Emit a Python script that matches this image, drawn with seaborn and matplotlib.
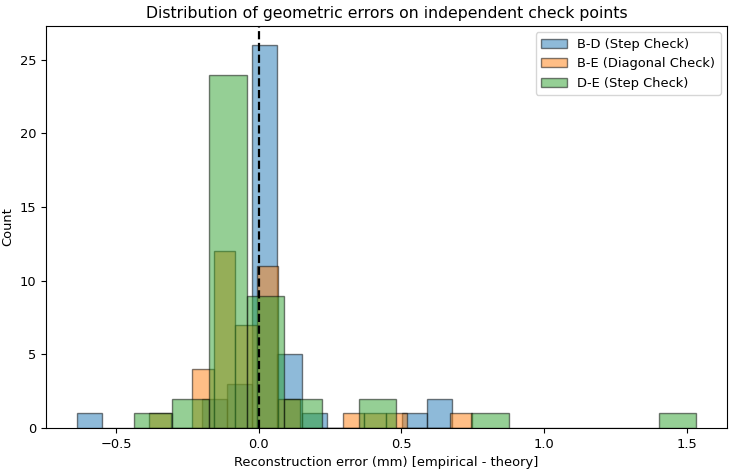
import numpy as np
import pandas as pd
import matplotlib
matplotlib.use("Agg")
import matplotlib.pyplot as plt
import seaborn as sns

plt.rcParams["font.size"] = 9.4

# Series labels
labels = ["B-D (Step Check)", "B-E (Diagonal Check)", "D-E (Step Check)"]

# Histogram range (min, max of each series) and counts in 15 equal bins
bd_range = (-0.637, 0.676)
bd_counts = [1, 0, 0, 0, 0, 2, 3, 26, 5, 1, 0, 0, 0, 1, 2]

be_range = (-0.384, 0.746)
be_counts = [1, 0, 4, 12, 7, 11, 2, 0, 0, 1, 1, 1, 0, 0, 1]

de_range = (-0.437, 1.533)
de_counts = [1, 2, 24, 9, 2, 0, 2, 0, 0, 1, 0, 0, 0, 0, 1]

colors = ["#1f77b4", "#ff7f0e", "#2ca02c"]

fig, ax = plt.subplots(figsize=(7.33, 4.72), dpi=100)

for lab, rng, cnt, col in zip(labels, [bd_range, be_range, de_range],
                              [bd_counts, be_counts, de_counts], colors):
    nb = len(cnt)
    w = (rng[1] - rng[0]) / nb
    centers = rng[0] + w * (np.arange(nb) + 0.5)
    df = pd.DataFrame({"err": centers, "n": cnt})
    sns.histplot(data=df, x="err", weights="n", bins=nb, binrange=rng, ax=ax,
                 color=col, alpha=0.5, edgecolor=(0, 0, 0, 0.5), linewidth=1,
                 label=lab, stat="count")

ax.axvline(0, color="black", linestyle="--", linewidth=1.6)
ax.set_title("Distribution of geometric errors on independent check points",
             fontsize=11.3)
ax.set_xlabel("Reconstruction error (mm) [empirical - theory]")
ax.set_ylabel("Count")
ax.legend(loc="upper right", fontsize=9.4)
fig.subplots_adjust(left=0.063, right=0.992, top=0.945, bottom=0.093)
fig.savefig("out.png", dpi=100)
